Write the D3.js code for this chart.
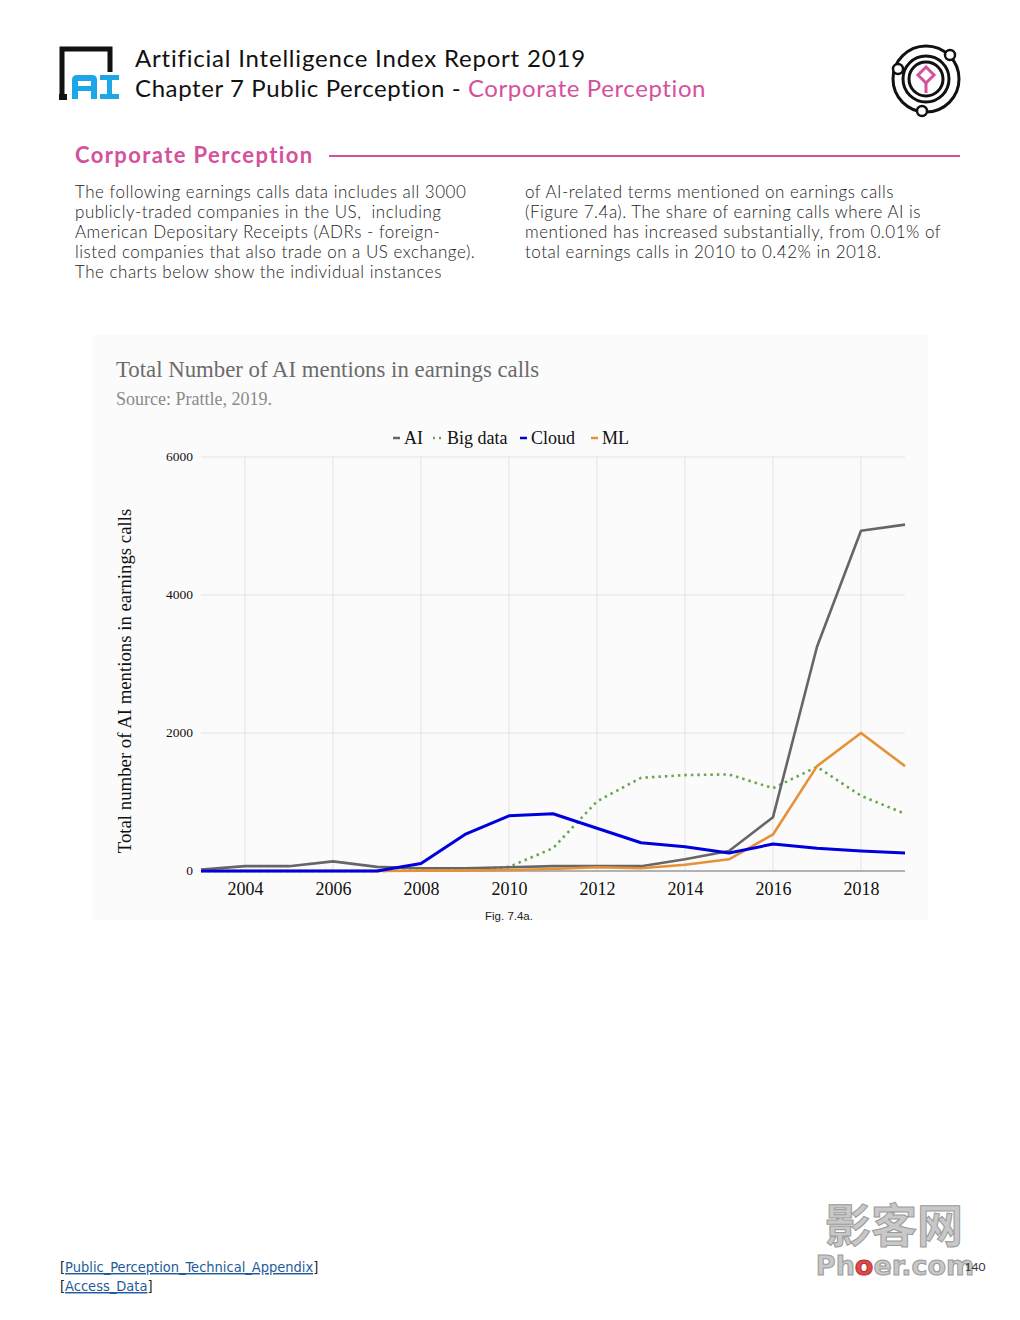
<!DOCTYPE html>
<html>
<head>
<meta charset="utf-8">
<script src="https://cdn.jsdelivr.net/npm/d3@7"></script>
<style>
    body { margin: 0; background: #fff; }
    svg { display: block; }
</style>
</head>
<body>
<div id="page"></div>
<script>
// years on the x axis
var years = [2003, 2004, 2005, 2006, 2007, 2008, 2009, 2010, 2011, 2012, 2013, 2014, 2015, 2016, 2017, 2018, 2019];

// mentions per year
var aiValues      = [20, 70, 70, 140, 60, 40, 40, 55, 70, 70, 70, 170, 290, 780, 3250, 4930, 5020];
var bigDataValues = [0, 0, 0, 0, 0, 10, 20, 60, 330, 1010, 1350, 1390, 1400, 1200, 1510, 1090, 830];
var cloudValues   = [0, 0, 0, 0, 0, 110, 530, 800, 830, 620, 410, 350, 260, 390, 330, 290, 260];
var mlValues      = [0, 0, 0, 0, 0, 5, 5, 15, 30, 55, 40, 90, 170, 530, 1520, 2000, 1520];

var seriesNames = ['AI', 'Big data', 'Cloud', 'ML'];
var seriesColors = ['#666666', '#6aa84f', '#0000dd', '#e69138'];

var yTicks = [0, 2000, 4000, 6000];
var xTicks = [2004, 2006, 2008, 2010, 2012, 2014, 2016, 2018];

var bodyLeft = [
    'The following earnings calls data includes all 3000',
    'publicly-traded companies in the US,  including',
    'American Depositary Receipts (ADRs - foreign-',
    'listed companies that also trade on a US exchange).',
    'The charts below show the individual instances'
];
var bodyRight = [
    'of AI-related terms mentioned on earnings calls',
    '(Figure 7.4a). The share of earning calls where AI is',
    'mentioned has increased substantially, from 0.01% of',
    'total earnings calls in 2010 to 0.42% in 2018.'
];

var pink = '#d4519c';
var headFont = '"Lato", "Noto Sans", sans-serif';
var serif = '"Liberation Serif", "DejaVu Serif", serif';

var svg = d3.select('#page').append('svg')
    .attr('width', 1020)
    .attr('height', 1320);

// ---- page header ----
var logo = svg.append('g');
// black bracket
logo.append('path')
    .attr('d', 'M62,99 L62,49 L110,49 L110,72')
    .attr('fill', 'none')
    .attr('stroke', '#111')
    .attr('stroke-width', 5);
logo.append('rect').attr('x', 59).attr('y', 94).attr('width', 8).attr('height', 6).attr('fill', '#111');
// blue "AI" blocks
logo.append('path')
    .attr('d', 'M72,99 L72,80 Q72,75 77,75 L92,75 Q97,75 97,80 L97,99 L91,99 L91,91 L78,91 L78,99 Z M78,81 L78,86 L91,86 L91,81 Z')
    .attr('fill', '#1ea7e8')
    .attr('fill-rule', 'evenodd');
logo.append('path')
    .attr('d', 'M100,75 L119,75 L119,80 L112,80 L112,94 L119,94 L119,99 L100,99 L100,94 L107,94 L107,80 L100,80 Z')
    .attr('fill', '#1ea7e8');

svg.append('text')
    .attr('x', 135).attr('y', 67)
    .style('font-family', headFont).style('font-size', '24px').style('letter-spacing', '0.8px').attr('fill', '#111')
    .text('Artificial Intelligence Index Report 2019');
var sub = svg.append('text')
    .attr('x', 135).attr('y', 97)
    .style('font-family', headFont).style('font-size', '24px').style('letter-spacing', '0.6px').attr('fill', '#111');
sub.append('tspan').text('Chapter 7 Public Perception - ');
sub.append('tspan').attr('fill', pink).text('Corporate Perception');

// orbit icon top right
var icon = svg.append('g').attr('transform', 'translate(926,79)');
icon.append('circle').attr('r', 33).attr('fill', 'none').attr('stroke', '#111').attr('stroke-width', 3);
icon.append('circle').attr('r', 23).attr('fill', 'none').attr('stroke', '#111').attr('stroke-width', 3);
icon.append('circle').attr('r', 17).attr('fill', 'none').attr('stroke', '#111').attr('stroke-width', 3);
icon.append('circle').attr('cx', 24).attr('cy', -24).attr('r', 5).attr('fill', '#fff').attr('stroke', '#111').attr('stroke-width', 2.5);
icon.append('circle').attr('cx', -28).attr('cy', -10).attr('r', 5).attr('fill', '#fff').attr('stroke', '#111').attr('stroke-width', 2.5);
icon.append('circle').attr('cx', -4).attr('cy', 32).attr('r', 5).attr('fill', '#fff').attr('stroke', '#111').attr('stroke-width', 2.5);
icon.append('path').attr('d', 'M0,-12 L8,-4 L0,4 L-8,-4 Z').attr('fill', 'none').attr('stroke', pink).attr('stroke-width', 3);
icon.append('line').attr('x1', 0).attr('x2', 0).attr('y1', 4).attr('y2', 14).attr('stroke', pink).attr('stroke-width', 3);

// section heading
svg.append('text')
    .attr('x', 75).attr('y', 163)
    .style('font-family', headFont).style('font-size', '22px').style('font-weight', 'bold')
    .style('letter-spacing', '1.4px')
    .attr('fill', pink)
    .text('Corporate Perception');
svg.append('line')
    .attr('x1', 329).attr('x2', 960).attr('y1', 156).attr('y2', 156)
    .attr('stroke', pink).attr('stroke-width', 2);

// body text columns
function writeLines(lines, x){
    svg.append('g').selectAll('text')
        .data(lines)
        .enter().append('text')
            .attr('x', x)
            .attr('y', function(d, i){ return 198 + i * 20; })
            .style('font-family', headFont).style('font-size', '17px').style('font-weight', 300)
            .style('letter-spacing', '0.5px')
            .attr('fill', '#222')
            .attr('xml:space', 'preserve')
            .text(function(d){ return d; });
}
writeLines(bodyLeft, 75);
writeLines(bodyRight, 525);

// ---- chart panel ----
svg.append('rect')
    .attr('x', 92).attr('y', 335).attr('width', 836).attr('height', 585)
    .attr('fill', '#fbfbfb');

svg.append('text')
    .attr('x', 116).attr('y', 377)
    .style('font-family', serif).style('font-size', '22.8px').attr('fill', '#6b6b6b')
    .text('Total Number of AI mentions in earnings calls');
svg.append('text')
    .attr('x', 116).attr('y', 405)
    .style('font-family', serif).style('font-size', '18px').attr('fill', '#8a8a8a')
    .text('Source: Prattle, 2019.');

var x = d3.scaleLinear()
    .domain([2003, 2019])
    .range([201, 905]);
var y = d3.scaleLinear()
    .domain([0, 6000])
    .range([871, 457]);

var plot = svg.append('g');

// grid
plot.append('g').selectAll('line')
    .data(xTicks)
    .enter().append('line')
        .attr('x1', function(d){ return x(d); })
        .attr('x2', function(d){ return x(d); })
        .attr('y1', y(6000)).attr('y2', y(0))
        .attr('stroke', '#e3e3e3').attr('stroke-width', 1);
plot.append('g').selectAll('line')
    .data(yTicks)
    .enter().append('line')
        .attr('x1', x(2003)).attr('x2', x(2019))
        .attr('y1', function(d){ return y(d); })
        .attr('y2', function(d){ return y(d); })
        .attr('stroke', function(d){ return d == 0 ? '#9a9a9a' : '#e3e3e3'; })
        .attr('stroke-width', function(d){ return d == 0 ? 1.5 : 1; });

// axes (labels only)
var yAxis = plot.append('g')
    .attr('transform', 'translate(' + 193 + ',0)')
    .call(d3.axisLeft(y).tickValues(yTicks).tickSize(0).tickPadding(0).tickFormat(d3.format('d')));
yAxis.select('.domain').remove();
yAxis.selectAll('text')
    .style('font-family', serif).style('font-size', '13.5px').attr('fill', '#111')
    .attr('dy', '0.25em');

var xAxis = plot.append('g')
    .attr('transform', 'translate(0,' + 871 + ')')
    .call(d3.axisBottom(x).tickValues(xTicks).tickSize(0).tickPadding(11).tickFormat(d3.format('d')));
xAxis.select('.domain').remove();
xAxis.selectAll('text')
    .style('font-family', serif).style('font-size', '18px').attr('fill', '#111');

svg.append('text')
    .attr('transform', 'translate(131,681) rotate(-90)')
    .attr('text-anchor', 'middle')
    .style('font-family', serif).style('font-size', '18.8px').attr('fill', '#111')
    .text('Total number of AI mentions in earnings calls');

// lines
var allValues = [aiValues, bigDataValues, cloudValues, mlValues];
var line = d3.line()
    .x(function(d, i){ return x(years[i]); })
    .y(function(d){ return y(d); });

// draw in the order the figure stacks them
var drawOrder = [1, 0, 3, 2];
plot.append('g').selectAll('path')
    .data(drawOrder)
    .enter().append('path')
        .attr('d', function(k){ return line(allValues[k]); })
        .attr('fill', 'none')
        .attr('stroke', function(k){ return seriesColors[k]; })
        .attr('stroke-width', function(k){ return k == 2 ? 3 : 2.6; })
        .attr('stroke-dasharray', function(k){ return k == 1 ? '2.5,4' : null; })
        .attr('stroke-linejoin', 'round');

// legend
var legendX = [393, 433, 520, 591];
var legend = svg.append('g').selectAll('g')
    .data(seriesNames)
    .enter().append('g')
        .attr('transform', function(d, i){ return 'translate(' + legendX[i] + ',438)'; });
legend.append('line')
    .attr('x1', 0)
    .attr('x2', function(d, i){ return i == 1 ? 9 : 7; })
    .attr('y1', 0).attr('y2', 0)
    .attr('stroke', function(d, i){ return seriesColors[i]; })
    .attr('stroke-width', 2.5)
    .attr('stroke-dasharray', function(d, i){ return i == 1 ? '2,4' : null; });
legend.append('text')
    .attr('x', function(d, i){ return i == 1 ? 14 : 11; })
    .attr('y', 6)
    .style('font-family', serif).style('font-size', '18px').attr('fill', '#111')
    .text(function(d){ return d; });

svg.append('text')
    .attr('x', 509).attr('y', 920)
    .attr('text-anchor', 'middle')
    .style('font-family', '"Liberation Sans", sans-serif').style('font-size', '11.5px').attr('fill', '#222')
    .text('Fig. 7.4a.');

// ---- footer ----
var links = ['Public_Perception_Technical_Appendix', 'Access_Data'];
var foot = svg.append('g').selectAll('text')
    .data(links)
    .enter().append('text')
        .attr('x', 60)
        .attr('y', function(d, i){ return 1272 + i * 19; })
        .style('font-family', '"DejaVu Sans Condensed", "Liberation Sans Narrow", sans-serif').style('font-size', '14.5px');
foot.append('tspan').attr('fill', '#222').text('[');
foot.append('tspan').attr('fill', '#1f5c99').style('text-decoration', 'underline').text(function(d){ return d; });
foot.append('tspan').attr('fill', '#222').text(']');

// watermark
svg.append('text')
    .attr('x', 894).attr('y', 1242)
    .attr('text-anchor', 'middle')
    .style('font-family', '"Noto Sans CJK SC", sans-serif').style('font-size', '46px').style('font-weight', 'bold')
    .attr('fill', '#c8c8c8').attr('stroke', '#9a9a9a').attr('stroke-width', 1)
    .text('影客网');
var wm = svg.append('text')
    .attr('x', 895).attr('y', 1275)
    .attr('text-anchor', 'middle')
    .style('font-family', '"DejaVu Sans", sans-serif').style('font-size', '27px').style('font-weight', 'bold')
    .attr('fill', '#c8c8c8').attr('stroke', '#9a9a9a').attr('stroke-width', 1);
wm.append('tspan').text('Ph');
wm.append('tspan').attr('fill', '#e04a4a').attr('stroke', '#b03030').text('o');
wm.append('tspan').text('er.com');
svg.append('text')
    .attr('x', 975).attr('y', 1271)
    .attr('text-anchor', 'middle')
    .style('font-family', headFont).style('font-size', '12px').attr('fill', '#333')
    .text('140');
</script>
</body>
</html>
